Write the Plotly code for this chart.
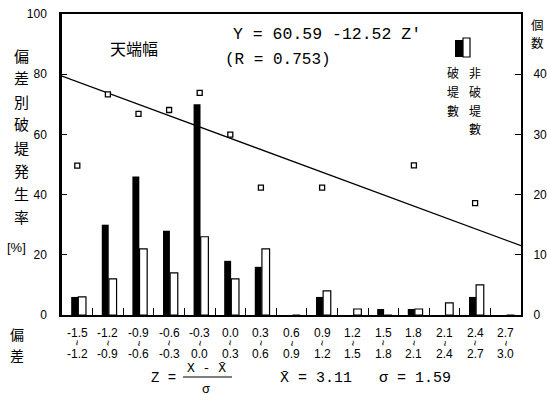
import plotly.graph_objects as go

# ---- data ----
lower_labels = ["-1.5", "-1.2", "-0.9", "-0.6", "-0.3", "0.0", "0.3", "0.6",
                "0.9", "1.2", "1.5", "1.8", "2.1", "2.4", "2.7"]
upper_labels = ["-1.2", "-0.9", "-0.6", "-0.3", "0.0", "0.3", "0.6", "0.9",
                "1.2", "1.5", "1.8", "2.1", "2.4", "2.7", "3.0"]
breaks = [3, 15, 23, 14, 35, 9, 8, 0, 3, 0, 1, 1, 0, 3, 0]          # 破堤数
nonbreaks = [3, 6, 11, 7, 13, 6, 11, 0, 4, 1, 0, 1, 2, 5, 0]        # 非破堤数
rate = [49.6, 73.3, 66.8, 68.1, 73.8, 59.9, 42.3, None, 42.3, None,
        None, 49.7, None, 37.2, None]                                # 偏差別破堤発生率 [%]
intercept = 60.59
slope = -12.52
left_ticks = [0, 20, 40, 60, 80, 100]
right_ticks = [0, 10, 20, 30, 40]

lower = [float(s) for s in lower_labels]
upper = [float(s) for s in upper_labels]
mid = [(a + b) / 2 for a, b in zip(lower, upper)]
x_line = [lower[0], upper[-1]]
y_line = [intercept + slope * z for z in x_line]

# ---- layout geometry (pixels) ----
W, H = 547, 404
L, R, T, B = 62, 26, 14, 89
PW, PH = W - L - R, H - T - B


def px(x):
    return (x - L) / PW


def py(y):
    return (H - B - y) / PH


CJK = "Noto Sans CJK JP"
MONO = "Liberation Mono"
SANS = "Liberation Sans"

fig = go.Figure()
fig.add_trace(go.Scatter(x=x_line, y=y_line, mode="lines",
                         line=dict(color="black", width=1.3),
                         yaxis="y", showlegend=False))
fig.add_trace(go.Scatter(x=mid, y=rate, mode="markers",
                         marker=dict(symbol="square", size=5, color="white",
                                     line=dict(color="black", width=1.3)),
                         yaxis="y", showlegend=False))
fig.add_trace(go.Bar(x=mid, y=breaks, width=0.068, offset=-0.06,
                     marker=dict(color="black", line=dict(width=0)),
                     yaxis="y2", showlegend=False))
fig.add_trace(go.Bar(x=mid, y=nonbreaks, width=0.075, offset=0.01,
                     marker=dict(color="white", line=dict(color="black", width=1.2)),
                     yaxis="y2", showlegend=False))

ann = []


def text(t, x, y, size, family, **kw):
    ann.append(dict(text=t, x=px(x), y=py(y), xref="paper", yref="paper",
                    showarrow=False, xanchor="center", yanchor="middle",
                    borderpad=0,
                    font=dict(size=size, family=family, color="black"), **kw))


# x category labels (two rows with a vertical tilde between)
for m, lo, up in zip(mid, lower_labels, upper_labels):
    xp = L + (m - lower[0]) / (upper[-1] - lower[0]) * PW
    text(lo, xp, 333, 12, SANS)
    text("~", xp, 343, 10, SANS, textangle=90)
    text(up, xp, 354, 12, SANS)

text("偏", 17, 334, 14, CJK)
text("差", 17, 355, 14, CJK)

# left axis title (vertical)
for i, ch in enumerate("偏差別破堤発生率"):
    text(ch, 21, 55 + 23 * i, 15, CJK)
text("[%]", 16, 247, 13, SANS)

# right axis title
text("個", 537, 24, 12.5, CJK)
text("数", 537, 43, 12.5, CJK)

text("天端幅", 134, 48, 16, CJK)
text("Y = 60.59 -12.52 Z′", 327, 34, 16.5, MONO)
text("(R = 0.753)", 278, 60, 16, MONO)

# legend
for i, ch in enumerate("破堤數"):
    text(ch, 453, 73 + 18.5 * i, 12, CJK)
for i, ch in enumerate("非破堤數"):
    text(ch, 475, 73 + 18.5 * i, 12, CJK)

# bottom formula
text("Z =", 163, 378, 14, MONO)
text("X - X̄", 206, 368, 13, MONO)
text("σ", 206, 389, 13, MONO)
text("X̄ = 3.11   σ = 1.59", 365, 378, 15, MONO)

shapes = [
    dict(type="rect", xref="paper", yref="paper", x0=px(455), x1=px(463),
         y0=py(57), y1=py(40), fillcolor="black", line=dict(width=0)),
    dict(type="rect", xref="paper", yref="paper", x0=px(463), x1=px(470),
         y0=py(57), y1=py(38), fillcolor="white", line=dict(color="black", width=1.2)),
    dict(type="line", xref="paper", yref="paper", x0=px(183), x1=px(232),
         y0=py(377), y1=py(377), line=dict(color="black", width=1)),
]

fig.update_layout(
    width=W, height=H,
    margin=dict(l=L, r=R, t=T, b=B, autoexpand=False),
    paper_bgcolor="white", plot_bgcolor="white",
    barmode="overlay",
    annotations=ann, shapes=shapes,
    xaxis=dict(range=[lower[0], upper[-1]], tickvals=upper[:-1],
               showticklabels=False, ticks="inside", ticklen=7,
               tickcolor="black", tickwidth=1,
               showline=True, linecolor="black", linewidth=2, mirror=True,
               showgrid=False, zeroline=False),
    yaxis=dict(range=[0, 100], tickvals=left_ticks, ticks="inside", ticklen=5,
               tickcolor="black", tickwidth=1, ticklabelstandoff=10,
               tickfont=dict(size=12, family=SANS, color="black"),
               showline=True, linecolor="black", linewidth=2.5,
               showgrid=False, zeroline=False),
    yaxis2=dict(range=[0, 50], tickvals=right_ticks, ticks="inside", ticklen=6,
                tickcolor="black", tickwidth=1, ticklabelstandoff=8,
                tickfont=dict(size=12, family=SANS, color="black"),
                overlaying="y", side="right",
                showline=True, linecolor="black", linewidth=2,
                showgrid=False, zeroline=False),
)

fig.write_html(
    "out.html",
    config={"displayModeBar": False},
    post_script="document.body.style.margin='0';"
                "document.documentElement.style.overflow='hidden';"
                "document.body.style.overflow='hidden';",
)
